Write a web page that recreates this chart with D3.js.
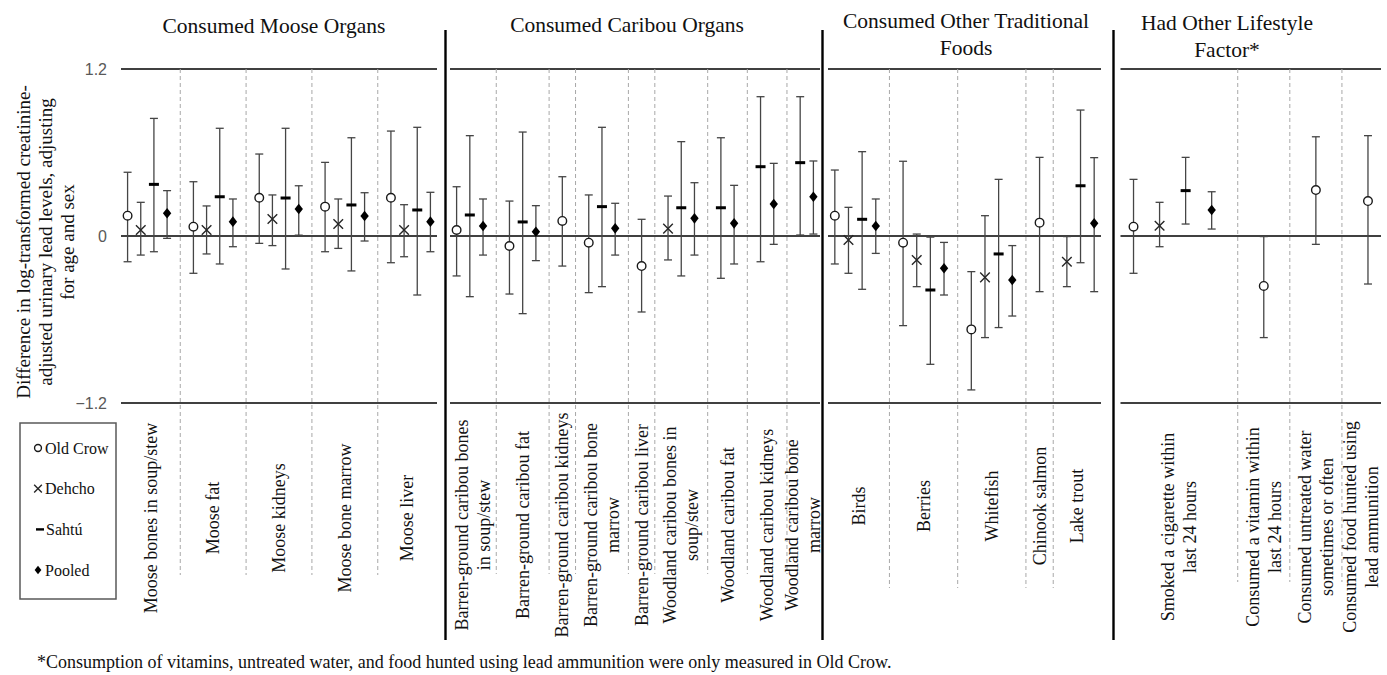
<!DOCTYPE html>
<html>
<head>
<meta charset="utf-8">
<script src="https://cdn.jsdelivr.net/npm/d3@7"></script>
<style>
  body { margin: 0; background: #fff; }
  svg { display: block; }
</style>
</head>
<body>
<svg id="chart" width="1387" height="675"></svg>
<script>
// ---- data ----------------------------------------------------------------
const seriesNames = ["Old Crow", "Dehcho", "Sahtú", "Pooled"];
const yTickValues = [-1.2, 0, 1.2];
const yTitleLines = [
  "Difference in log-transformed creatinine-",
  "adjusted urinary lead levels, adjusting",
  "for age and sex"
];
const footnoteText = "*Consumption of vitamins, untreated water, and food hunted using lead ammunition were only measured in Old Crow.";

const mooseTitle = ["Consumed Moose Organs"];
const mooseCategories = [
  ["Moose bones in soup/stew"], ["Moose fat"], ["Moose kidneys"],
  ["Moose bone marrow"], ["Moose liver"]
];
// [category index, series, estimate, lower CI, upper CI]
const mooseRows = [
  [0, "Old Crow", 0.146, -0.185, 0.458],
  [0, "Dehcho",   0.043, -0.137, 0.242],
  [0, "Sahtú",    0.371, -0.113, 0.845],
  [0, "Pooled",   0.163, -0.017, 0.326],
  [1, "Old Crow", 0.067, -0.268, 0.390],
  [1, "Dehcho",   0.043, -0.129, 0.216],
  [1, "Sahtú",    0.282, -0.201, 0.774],
  [1, "Pooled",   0.103, -0.077, 0.266],
  [2, "Old Crow", 0.275, -0.053, 0.589],
  [2, "Dehcho",   0.122, -0.069, 0.295],
  [2, "Sahtú",    0.273, -0.237, 0.774],
  [2, "Pooled",   0.194,  0.006, 0.361],
  [3, "Old Crow", 0.211, -0.113, 0.529],
  [3, "Dehcho",   0.086, -0.089, 0.266],
  [3, "Sahtú",    0.223, -0.251, 0.706],
  [3, "Pooled",   0.144, -0.036, 0.311],
  [4, "Old Crow", 0.275, -0.192, 0.754],
  [4, "Dehcho",   0.043, -0.149, 0.225],
  [4, "Sahtú",    0.187, -0.424, 0.781],
  [4, "Pooled",   0.103, -0.113, 0.314]
];

const caribouTitle = ["Consumed Caribou Organs"];
const caribouCategories = [
  ["Barren-ground caribou bones", "in soup/stew"],
  ["Barren-ground caribou fat"],
  ["Barren-ground caribou kidneys"],
  ["Barren-ground caribou bone", "marrow"],
  ["Barren-ground caribou liver"],
  ["Woodland caribou bones in", "soup/stew"],
  ["Woodland caribou fat"],
  ["Woodland caribou kidneys"],
  ["Woodland caribou bone", "marrow"]
];
const caribouRows = [
  [0, "Old Crow",  0.043, -0.287, 0.354],
  [0, "Sahtú",     0.151, -0.436, 0.721],
  [0, "Pooled",    0.072, -0.137, 0.266],
  [1, "Old Crow", -0.072, -0.417, 0.251],
  [1, "Sahtú",     0.101, -0.558, 0.747],
  [1, "Pooled",    0.031, -0.177, 0.218],
  [2, "Old Crow",  0.108, -0.216, 0.426],
  [3, "Old Crow", -0.048, -0.407, 0.295],
  [3, "Sahtú",     0.211, -0.364, 0.781],
  [3, "Pooled",    0.055, -0.137, 0.235],
  [4, "Old Crow", -0.216, -0.546, 0.120],
  [5, "Dehcho",    0.053, -0.172, 0.287],
  [5, "Sahtú",     0.203, -0.287, 0.678],
  [5, "Pooled",    0.127, -0.137, 0.383],
  [6, "Sahtú",     0.203, -0.304, 0.706],
  [6, "Pooled",    0.091, -0.201, 0.364],
  [7, "Sahtú",     0.498, -0.185, 1.001],
  [7, "Pooled",    0.230, -0.060, 0.522],
  [8, "Sahtú",     0.527,  0.007, 1.001],
  [8, "Pooled",    0.282,  0.014, 0.539]
];

const otherFoodsTitle = ["Consumed Other Traditional", "Foods"];
const otherFoodsCategories = [
  ["Birds"], ["Berries"], ["Whitefish"], ["Chinook salmon"], ["Lake trout"]
];
const otherFoodsRows = [
  [0, "Old Crow",  0.146, -0.201,  0.474],
  [0, "Dehcho",   -0.029, -0.268,  0.206],
  [0, "Sahtú",     0.120, -0.383,  0.606],
  [0, "Pooled",    0.072, -0.125,  0.266],
  [1, "Old Crow", -0.048, -0.644,  0.537],
  [1, "Dehcho",   -0.172, -0.364,  0.014],
  [1, "Sahtú",    -0.388, -0.922, -0.008],
  [1, "Pooled",   -0.232, -0.424, -0.046],
  [2, "Old Crow", -0.671, -1.106, -0.256],
  [2, "Dehcho",   -0.297, -0.730,  0.146],
  [2, "Sahtú",    -0.129, -0.658,  0.407],
  [2, "Pooled",   -0.316, -0.575, -0.069],
  [3, "Old Crow",  0.096, -0.400,  0.565],
  [4, "Dehcho",   -0.185, -0.364, -0.004],
  [4, "Sahtú",     0.361, -0.192,  0.905],
  [4, "Pooled",    0.091, -0.400,  0.563]
];

const lifestyleTitle = ["Had Other Lifestyle", "Factor*"];
const lifestyleCategories = [
  ["Smoked a cigarette within", "last 24 hours"],
  ["Consumed a vitamin within", "last 24 hours"],
  ["Consumed untreated water", "sometimes or often"],
  ["Consumed food hunted using", "lead ammunition"]
];
const lifestyleRows = [
  [0, "Old Crow",  0.067, -0.268,  0.407],
  [0, "Dehcho",    0.074, -0.077,  0.242],
  [0, "Sahtú",     0.326,  0.086,  0.565],
  [0, "Pooled",    0.187,  0.050,  0.318],
  [1, "Old Crow", -0.359, -0.730, -0.004],
  [2, "Old Crow",  0.330, -0.060,  0.713],
  [3, "Old Crow",  0.251, -0.345,  0.721]
];

// ---- layout ----------------------------------------------------------------
const plotTop = 69, plotBottom = 403;
const panels = [
  { title: mooseTitle, categories: mooseCategories, rows: mooseRows,
    x0: 121, x1: 437, titleX: 274, titleY: 33, labelY: 518, dashEnd: 575 },
  { title: caribouTitle, categories: caribouCategories, rows: caribouRows,
    x0: 450, x1: 820, titleX: 627, titleY: 32, labelY: 525, dashEnd: 574 },
  { title: otherFoodsTitle, categories: otherFoodsCategories, rows: otherFoodsRows,
    x0: 828, x1: 1101, titleX: 966, titleY: 28, labelY: 506, dashEnd: 588 },
  { title: lifestyleTitle, categories: lifestyleCategories, rows: lifestyleRows,
    x0: 1120.5, x1: 1381, titleX: 1227, titleY: 30, labelY: 527, dashEnd: 582 }
];
const separators = [445.5, 822.5, 1113.5];

const serif = "'Liberation Serif', 'Times New Roman', serif";
const sans = "'Liberation Sans', Arial, sans-serif";
const barColor = "#454545";

const svg = d3.select("#chart");
const y = d3.scaleLinear().domain([-1.2, 1.2]).range([plotBottom, plotTop]);

// marker drawing, shared by plot and legend
function drawMarker(g, series, scale) {
  const s = scale || 1;
  if (series === "Old Crow") {
    g.append("circle").attr("r", 4.3 * s).attr("fill", "#fff")
      .attr("stroke", "#1a1a1a").attr("stroke-width", 1.4);
  } else if (series === "Dehcho") {
    const a = 4.8 * s;
    g.append("path").attr("d", `M${-a},${-a}L${a},${a}M${-a},${a}L${a},${-a}`)
      .attr("stroke", "#262626").attr("stroke-width", 1.4).attr("fill", "none");
  } else if (series === "Sahtú") {
    g.append("rect").attr("x", -5 * s).attr("y", -1.5 * s)
      .attr("width", 10 * s).attr("height", 3 * s).attr("fill", "#000");
  } else {
    const w = 4.2 * s, h = 5.3 * s;
    g.append("path").attr("d", `M0,${-h}L${w},0L0,${h}L${-w},0Z`).attr("fill", "#000");
  }
}

// ---- panels ------------------------------------------------------------------
panels.forEach(p => {
  const g = svg.append("g");

  // slots: consecutive positions for each present estimate, one blank slot between categories
  const slotKeys = [];
  const gapKeys = [];
  const pointsByCat = p.categories.map((c, ci) =>
    p.rows.filter(r => r[0] === ci)
      .sort((a, b) => seriesNames.indexOf(a[1]) - seriesNames.indexOf(b[1])));
  pointsByCat.forEach((pts, ci) => {
    pts.forEach(r => slotKeys.push(`${ci}|${r[1]}`));
    if (ci < p.categories.length - 1) {
      const k = `gap${ci}`;
      slotKeys.push(k);
      gapKeys.push(k);
    }
  });
  const x = d3.scaleBand().domain(slotKeys).range([p.x0, p.x1]).padding(0);
  const cx = k => x(k) + x.bandwidth() / 2;

  // horizontal reference lines at the tick values
  g.selectAll("line.h").data(yTickValues).join("line")
    .attr("x1", p.x0).attr("x2", p.x1)
    .attr("y1", d => y(d)).attr("y2", d => y(d))
    .attr("stroke", "#000").attr("stroke-width", 1.4);

  // dashed category dividers
  g.selectAll("line.div").data(gapKeys).join("line")
    .attr("x1", d => cx(d)).attr("x2", d => cx(d))
    .attr("y1", y(1.2)).attr("y2", p.dashEnd)
    .attr("stroke", "#a8a8a8").attr("stroke-width", 1)
    .attr("stroke-dasharray", "4,3");

  // error bars
  const capW = 8;
  const bars = g.selectAll("g.bar").data(p.rows).join("g")
    .attr("transform", d => `translate(${cx(`${d[0]}|${d[1]}`)},0)`);
  bars.append("line").attr("y1", d => y(d[3])).attr("y2", d => y(d[4]))
    .attr("stroke", barColor).attr("stroke-width", 1.3);
  bars.append("line").attr("x1", -capW / 2).attr("x2", capW / 2)
    .attr("y1", d => y(d[4])).attr("y2", d => y(d[4]))
    .attr("stroke", barColor).attr("stroke-width", 1.3);
  bars.append("line").attr("x1", -capW / 2).attr("x2", capW / 2)
    .attr("y1", d => y(d[3])).attr("y2", d => y(d[3]))
    .attr("stroke", barColor).attr("stroke-width", 1.3);
  bars.each(function (d) {
    const m = d3.select(this).append("g").attr("transform", `translate(0,${y(d[2])})`);
    drawMarker(m, d[1]);
  });

  // category labels, rotated, centred in each category's region
  p.categories.forEach((lines, ci) => {
    const left = ci === 0 ? p.x0 : cx(`gap${ci - 1}`);
    const right = ci === p.categories.length - 1 ? p.x1 : cx(`gap${ci}`);
    const mid = (left + right) / 2;
    const t = g.append("text")
      .attr("transform", `translate(${mid},${p.labelY}) rotate(-90)`)
      .attr("text-anchor", "middle")
      .attr("font-family", serif).attr("font-size", 18).attr("fill", "#111");
    lines.forEach((ln, i) => {
      t.append("tspan").attr("x", 0)
        .attr("y", (i - (lines.length - 1) / 2) * 22)
        .attr("dominant-baseline", "central")
        .text(ln);
    });
  });

  // panel title
  const tt = g.append("text").attr("text-anchor", "middle")
    .attr("font-family", serif).attr("font-size", 21.5).attr("fill", "#111");
  p.title.forEach((ln, i) => {
    tt.append("tspan").attr("x", p.titleX).attr("y", p.titleY + i * 26.5).text(ln);
  });
});

// panel separators
svg.selectAll("line.sep").data(separators).join("line")
  .attr("x1", d => d).attr("x2", d => d).attr("y1", 30).attr("y2", 640)
  .attr("stroke", "#000").attr("stroke-width", 2.4);

// y axis tick labels
const yAxis = d3.axisLeft(y).tickValues(yTickValues).tickSize(0).tickPadding(14)
  .tickFormat(d => d === 0 ? "0" : d3.format(".1f")(d));
const ax = svg.append("g").attr("transform", `translate(${panels[0].x0},0)`).call(yAxis);
ax.select(".domain").remove();
ax.selectAll("text").attr("font-family", sans).attr("font-size", 16).attr("fill", "#595959");

// y axis title
const yt = svg.append("text")
  .attr("transform", `translate(45,242) rotate(-90)`)
  .attr("text-anchor", "middle")
  .attr("font-family", serif).attr("font-size", 19).attr("fill", "#111");
yTitleLines.forEach((ln, i) => {
  yt.append("tspan").attr("x", 0).attr("y", (i - 1) * 22)
    .attr("dominant-baseline", "central").text(ln);
});

// legend
const lg = svg.append("g");
lg.append("rect").attr("x", 20).attr("y", 423).attr("width", 96).attr("height", 176)
  .attr("fill", "#fff").attr("stroke", "#595959").attr("stroke-width", 1.5);
seriesNames.forEach((s, i) => {
  const yy = 448 + i * 40.7;
  const m = lg.append("g").attr("transform", `translate(${s === "Sahtú" ? 40 : 38},${yy})`);
  drawMarker(m, s, 0.8);
  lg.append("text").attr("x", s === "Sahtú" ? 46 : 45).attr("y", yy)
    .attr("dominant-baseline", "central")
    .attr("font-family", serif).attr("font-size", 16).attr("fill", "#111").text(s);
});

// footnote
svg.append("text").attr("x", 37).attr("y", 668)
  .attr("font-family", serif).attr("font-size", 18).attr("fill", "#111")
  .text(footnoteText);
</script>
</body>
</html>
